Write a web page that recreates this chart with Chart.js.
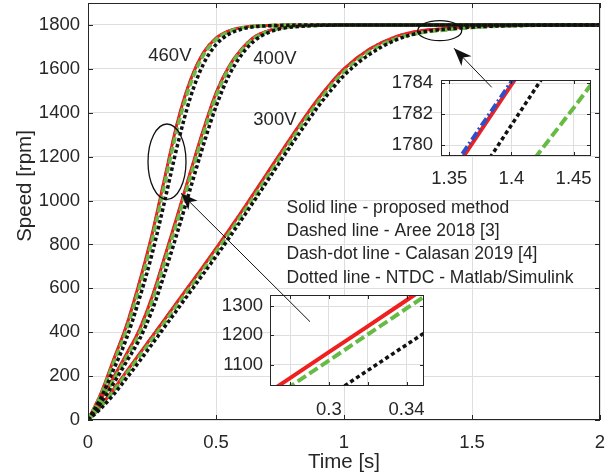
<!DOCTYPE html>
<html><head><meta charset="utf-8">
<script src="https://cdn.jsdelivr.net/npm/chart.js@4.4.1/dist/chart.umd.min.js"></script>
<style>
html,body{margin:0;padding:0;background:#fff;}
#wrap{position:relative;width:608px;height:476px;overflow:hidden;background:#fff;}
#wrap canvas{position:absolute;}
</style></head><body>
<div id="wrap">
<canvas id="main" width="608" height="476" style="left:0;top:0"></canvas>
<canvas id="inset1" width="220" height="125" style="left:380px;top:70px"></canvas>
<canvas id="inset2" width="220" height="130" style="left:215px;top:285px"></canvas>
<canvas id="overlay" width="608" height="476" style="left:0;top:0;pointer-events:none"></canvas>
</div>
<script>
// ---------- data ----------
const time = [0,0.05,0.1,0.15,0.2,0.25,0.3,0.35,0.4,0.45,0.5,0.55,0.6,0.65,0.7,0.75,0.8,0.85,0.9,0.95,1.0,1.1,1.2,1.3,1.4,1.5,1.6,1.7,1.8,1.9,2.0];

const proposed460 = [0,120,275,430,625,845,1105,1360,1548,1672,1740,1773,1788,1795,1798,1799,1800,1800,1800,1800,1800,1800,1800,1800,1800,1800,1800,1800,1800,1800,1800];
const calasan460  = [0,120,275,430,625,845,1105,1360,1548,1672,1740,1773,1788,1795,1798,1799,1800,1800,1800,1800,1800,1800,1800,1800,1800,1800,1800,1800,1800,1800,1800];
const aree460     = [0,112,260,410,600,818,1078,1335,1530,1660,1733,1769,1786,1794,1797,1799,1800,1800,1800,1800,1800,1800,1800,1800,1800,1800,1800,1800,1800,1800,1800];
const ntdc460     = [0,100,230,370,550,755,1000,1255,1470,1620,1710,1758,1781,1792,1796,1798,1799,1800,1800,1800,1800,1800,1800,1800,1800,1800,1800,1800,1800,1800,1800];

const proposed400 = [0,95,195,300,410,560,745,935,1130,1320,1490,1610,1690,1745,1772,1787,1794,1797,1799,1800,1800,1800,1800,1800,1800,1800,1800,1800,1800,1800,1800];
const calasan400  = [0,95,195,300,410,560,745,935,1130,1320,1490,1610,1690,1745,1772,1787,1794,1797,1799,1800,1800,1800,1800,1800,1800,1800,1800,1800,1800,1800,1800];
const aree400     = [0,88,183,285,392,538,722,912,1108,1300,1474,1600,1684,1740,1769,1785,1793,1796,1798,1799,1800,1800,1800,1800,1800,1800,1800,1800,1800,1800,1800];
const ntdc400     = [0,78,167,265,365,498,670,858,1055,1250,1428,1568,1664,1728,1763,1782,1791,1795,1798,1799,1800,1800,1800,1800,1800,1800,1800,1800,1800,1800,1800];

const proposed300 = [0,65,140,220,300,380,460,540,620,700,782,865,950,1037,1125,1213,1300,1385,1465,1537,1600,1690,1746,1774,1784,1792,1796,1798,1799,1800,1800];
const calasan300  = [0,65,140,220,300,380,460,540,620,700,782,865,950,1037,1125,1213,1300,1385,1465,1537,1600,1690,1746,1774,1784,1792,1796,1798,1799,1800,1800];
const aree300     = [0,60,132,210,288,367,446,526,605,685,766,849,933,1020,1108,1196,1284,1369,1450,1523,1587,1679,1737,1764,1777,1788,1794,1797,1799,1800,1800];
const ntdc300     = [0,52,116,190,266,345,425,505,585,665,745,828,913,1000,1088,1176,1263,1348,1430,1503,1570,1666,1730,1766,1781,1790,1795,1798,1799,1800,1800];

// zoom near 1780 rpm (300 V)
const inset1Time     = [1.33,1.35,1.40,1.45,1.48];
const inset1Proposed = [1775.6,1777.9,1783.9,1789.8,1793.4];
const inset1Calasan  = [1775.8,1778.2,1784.1,1790.0,1793.5];
const inset1Ntdc     = [1772.8,1775.2,1781.3,1787.4,1791.0];
const inset1Aree     = [1769.8,1771.9,1777.2,1782.4,1785.6];

// zoom near 1200 rpm (460 V)
const inset2Time     = [0.26,0.28,0.30,0.32,0.34,0.36];
const inset2Proposed = [965,1054,1143,1231,1320,1409];
const inset2Aree     = [936,1025,1114,1203,1292,1381];
const inset2Ntdc     = [816,904,992,1080,1168,1256];

// ticks
const xTickValues = [0,0.5,1,1.5,2];
const xTickLabels = ['0','0.5','1','1.5','2'];
const yTickValues = [0,200,400,600,800,1000,1200,1400,1600,1800];
const yTickLabels = ['0','200','400','600','800','1000','1200','1400','1600','1800'];
const in1XTickValues = [1.35,1.40,1.45];
const in1XTickLabels = ['1.35','1.4','1.45'];
const in1YTickValues = [1780,1782,1784];
const in1YTickLabels = ['1780','1782','1784'];
const in2XTickValues = [0.28,0.30,0.32,0.34];
const in2XTickLabels = ['','0.3','','0.34'];
const in2YTickValues = [1100,1200,1300];
const in2YTickLabels = ['1100','1200','1300'];

const legendLines = ['Solid line - proposed method','Dashed line - Aree 2018 [3]','Dash-dot line - Calasan 2019 [4]','Dotted line - NTDC - Matlab/Simulink'];
const voltageLabels = ['460V','400V','300V'];

// ---------- styles ----------
const FONT = '"Liberation Sans", Arial, Helvetica, sans-serif';
const TXT = '#262626';
const GRID = '#dedede';
Chart.defaults.font.family = FONT;
Chart.defaults.color = TXT;

const RED = '#ee2020', GREEN = '#66bb44', BLACK = '#111111', BLUE = '#2f4fc8';
const mainStyle = {
  proposed: {borderColor: RED, borderWidth: 3},
  calasan:  {borderColor: BLUE, borderWidth: 2.5, borderDash: [8,3,2,3]},
  aree:     {borderColor: GREEN, borderWidth: 3.5, borderDash: [7,3]},
  ntdc:     {borderColor: BLACK, borderWidth: 3.5, borderDash: [3.5,2.5]}
};
const insetStyle = {
  proposed: {borderColor: RED, borderWidth: 4},
  calasan:  {borderColor: BLUE, borderWidth: 4, borderDash: [9,3,2,3]},
  aree:     {borderColor: GREEN, borderWidth: 4, borderDash: [10,4]},
  ntdc:     {borderColor: BLACK, borderWidth: 3.5, borderDash: [4,3]}
};

function ds(label, xs, ys, style, smooth) {
  return Object.assign({
    label: label,
    data: xs.map((x, i) => ({x: x, y: ys[i]})),
    pointRadius: 0, fill: false,
    cubicInterpolationMode: smooth ? 'monotone' : 'default',
    tension: 0
  }, style);
}

// frame + inward ticks (+ optional white plot background)
const framePlugin = {
  id: 'frame',
  beforeDraw(chart, args, o) {
    if (o && o.white) {
      const a = chart.chartArea, c = chart.ctx;
      c.save(); c.fillStyle = '#fff';
      c.fillRect(a.left, a.top, a.right - a.left, a.bottom - a.top);
      c.restore();
    }
  },
  afterDraw(chart, args, o) {
    const a = chart.chartArea, c = chart.ctx, L = (o && o.tick) || 5;
    c.save();
    c.strokeStyle = TXT; c.lineWidth = 1;
    c.strokeRect(a.left + 0.5, a.top + 0.5, a.right - a.left - 1, a.bottom - a.top - 1);
    c.beginPath();
    chart.scales.x.ticks.forEach(t => {
      const px = Math.round(chart.scales.x.getPixelForValue(t.value)) + 0.5;
      c.moveTo(px, a.bottom); c.lineTo(px, a.bottom - L);
      c.moveTo(px, a.top); c.lineTo(px, a.top + L);
    });
    chart.scales.y.ticks.forEach(t => {
      const py = Math.round(chart.scales.y.getPixelForValue(t.value)) + 0.5;
      c.moveTo(a.left, py); c.lineTo(a.left + L, py);
      c.moveTo(a.right, py); c.lineTo(a.right - L, py);
    });
    c.stroke();
    c.restore();
  }
};

function axes(xmin, xmax, xv, xl, ymin, ymax, yv, yl, yWidth, xHeight, xPad, yPad) {
  return {
    x: {
      type: 'linear', min: xmin, max: xmax,
      afterBuildTicks: s => { s.ticks = xv.map(v => ({value: v})); },
      afterFit: s => { s.height = xHeight; s.paddingLeft = 0; s.paddingRight = 0; },
      ticks: {callback: (v, i) => xl[i], padding: xPad, color: TXT, font: {size: 18.5}, maxRotation: 0, autoSkip: false},
      grid: {color: GRID, drawTicks: false, lineWidth: 1},
      border: {display: false}
    },
    y: {
      type: 'linear', min: ymin, max: ymax,
      afterBuildTicks: s => { s.ticks = yv.map(v => ({value: v})); },
      afterFit: s => { s.width = yWidth; s.paddingTop = 0; s.paddingBottom = 0; },
      ticks: {callback: (v, i) => yl[i], padding: yPad, color: TXT, font: {size: 18.5}, autoSkip: false},
      grid: {color: GRID, drawTicks: false, lineWidth: 1},
      border: {display: false}
    }
  };
}

// ---------- main chart ----------
const mainText = {
  id: 'mainText',
  afterDraw(chart) {
    const c = chart.ctx, sx = chart.scales.x, sy = chart.scales.y;
    const P = (t, v) => [sx.getPixelForValue(t), sy.getPixelForValue(v)];
    c.save();
    c.fillStyle = TXT;
    // y axis title
    c.save();
    c.translate(25, 186);
    c.rotate(-Math.PI / 2);
    c.font = '20.5px ' + FONT;
    c.textAlign = 'center'; c.textBaseline = 'middle';
    c.fillText('Speed [rpm]', 0, 0);
    c.restore();
    // voltage labels
    c.font = '18.5px ' + FONT;
    c.textAlign = 'left'; c.textBaseline = 'alphabetic';
    const vpos = [[0.2355, 1636], [0.6457, 1622], [0.6457, 1344]];
    voltageLabels.forEach((s, i) => { const p = P(vpos[i][0], vpos[i][1]); c.fillText(s, p[0], p[1]); });
    // legend text block
    c.font = '17.5px ' + FONT;
    const lpos = [945, 838, 732, 626];
    legendLines.forEach((s, i) => { const p = P(0.7754, lpos[i]); c.fillText(s, p[0], p[1]); });
    c.restore();
  }
};

const mainChart = new Chart(document.getElementById('main'), {
  type: 'line',
  data: {
    datasets: [
      ds('NTDC 460V', time, ntdc460, mainStyle.ntdc, true),
      ds('NTDC 400V', time, ntdc400, mainStyle.ntdc, true),
      ds('NTDC 300V', time, ntdc300, mainStyle.ntdc, true),
      ds('Aree 460V', time, aree460, mainStyle.aree, true),
      ds('Aree 400V', time, aree400, mainStyle.aree, true),
      ds('Aree 300V', time, aree300, mainStyle.aree, true),
      ds('Proposed 460V', time, proposed460, mainStyle.proposed, true),
      ds('Proposed 400V', time, proposed400, mainStyle.proposed, true),
      ds('Proposed 300V', time, proposed300, mainStyle.proposed, true),
      ds('Calasan 460V', time, calasan460, mainStyle.calasan, true),
      ds('Calasan 400V', time, calasan400, mainStyle.calasan, true),
      ds('Calasan 300V', time, calasan300, mainStyle.calasan, true)
    ]
  },
  options: {
    responsive: false, animation: false, devicePixelRatio: 1,
    layout: {padding: {left: 0, top: 3, right: 8, bottom: 0}},
    plugins: {legend: {display: false}, tooltip: {enabled: false}, frame: {tick: 5}},
    scales: (() => {
      const s = axes(0, 2, xTickValues, xTickLabels, 0, 1900, yTickValues, yTickLabels, 88, 56, 12, 8);
      s.x.title = {display: true, text: 'Time [s]', color: TXT, font: {size: 20.5}, padding: {top: 0, bottom: 1}};
      return s;
    })()
  },
  plugins: [framePlugin, mainText]
});

// ---------- inset 1 (near 1780 rpm) ----------
new Chart(document.getElementById('inset1'), {
  type: 'line',
  data: {
    datasets: [
      ds('Dash-dot - Calasan', inset1Time, inset1Calasan, insetStyle.calasan, false),
      ds('Solid - proposed', inset1Time, inset1Proposed, insetStyle.proposed, false),
      ds('Dotted - NTDC', inset1Time, inset1Ntdc, insetStyle.ntdc, false),
      ds('Dashed - Aree', inset1Time, inset1Aree, insetStyle.aree, false)
    ]
  },
  options: {
    responsive: false, animation: false, devicePixelRatio: 1,
    layout: {padding: {left: 0, top: 10, right: 9, bottom: 0}},
    plugins: {legend: {display: false}, tooltip: {enabled: false}, frame: {white: true, tick: 4}},
    scales: axes(1.3433, 1.464, in1XTickValues, in1XTickLabels, 1779.3, 1784.2, in1YTickValues, in1YTickLabels, 61, 39, 12, 8)
  },
  plugins: [framePlugin]
});

// ---------- inset 2 (near 1200 rpm) ----------
new Chart(document.getElementById('inset2'), {
  type: 'line',
  data: {
    datasets: [
      ds('Dotted - NTDC', inset2Time, inset2Ntdc, insetStyle.ntdc, false),
      ds('Dashed - Aree', inset2Time, inset2Aree, insetStyle.aree, false),
      ds('Solid - proposed', inset2Time, inset2Proposed, insetStyle.proposed, false)
    ]
  },
  options: {
    responsive: false, animation: false, devicePixelRatio: 1,
    layout: {padding: {left: 0, top: 10, right: 11, bottom: 0}},
    plugins: {legend: {display: false}, tooltip: {enabled: false}, frame: {white: true, tick: 4}},
    scales: axes(0.2697, 0.349, in2XTickValues, in2XTickLabels, 1027, 1338, in2YTickValues, in2YTickLabels, 55, 29, 13, 7)
  },
  plugins: [framePlugin]
});

// ---------- overlay: ellipses and arrows (positioned through the main scales) ----------
(function () {
  const c = document.getElementById('overlay').getContext('2d');
  const sx = mainChart.scales.x, sy = mainChart.scales.y;
  const P = (t, v) => [sx.getPixelForValue(t), sy.getPixelForValue(v)];
  c.strokeStyle = '#111'; c.fillStyle = '#111';
  c.lineWidth = 1.3;
  let p = P(0.3086, 1177);
  c.beginPath(); c.ellipse(p[0], p[1], 19, 37.7, 0, 0, Math.PI * 2); c.stroke();
  p = P(1.3738, 1774);
  c.beginPath(); c.ellipse(p[0], p[1], 22, 10, 0, 0, Math.PI * 2); c.stroke();

  function arrow(tail, tip, len, hw) {
    c.lineWidth = 1;
    c.beginPath(); c.moveTo(tail[0], tail[1]); c.lineTo(tip[0], tip[1]); c.stroke();
    const a = Math.atan2(tip[1] - tail[1], tip[0] - tail[0]);
    const ca = Math.cos(a), sa = Math.sin(a);
    c.beginPath();
    c.moveTo(tip[0], tip[1]);
    c.lineTo(tip[0] - len * ca + hw * sa, tip[1] - len * sa - hw * ca);
    c.lineTo(tip[0] - len * 0.72 * ca, tip[1] - len * 0.72 * sa);
    c.lineTo(tip[0] - len * ca - hw * sa, tip[1] - len * sa + hw * ca);
    c.closePath(); c.fill();
  }
  arrow(P(0.8672, 448), P(0.3633, 1033), 17, 6.5);
  arrow(P(1.577, 1516), P(1.4297, 1694), 18, 7);
})();
</script>
</body></html>
